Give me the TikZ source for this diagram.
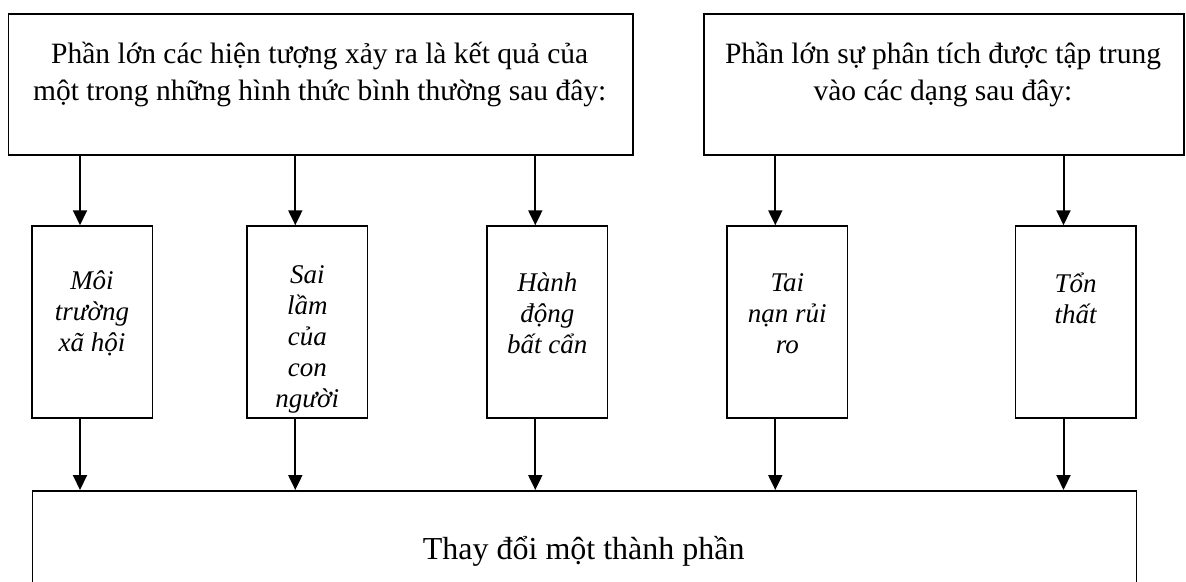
\documentclass[tikz,border=0pt]{standalone}
\usepackage{fontspec}
\setmainfont{Liberation Serif}
\usetikzlibrary{arrows.meta,calc}
\begin{document}
\begin{tikzpicture}[x=1pt,y=-1pt,
  box/.style={draw, line width=1.5pt, inner sep=0pt},
  smallbox/.style={box, minimum width=120.5pt, minimum height=192pt},
  arr/.style={line width=2pt, -{Triangle[length=15pt,width=14pt]}},
  maintext/.style={inner sep=0pt, anchor=base, font=\fontsize{29.5}{37}\selectfont},
  itltext/.style={inner sep=0pt, anchor=base, font=\fontsize{27}{31}\selectfont\itshape},
]
\useasboundingbox (0,0) rectangle (1186,581);
\clip (0,0) rectangle (1186,581);

% top boxes
\node[box, minimum width=624.5pt, minimum height=141pt, anchor=north west] (A) at (7.5,13) {};
\node[maintext] (At) at (319.7,63.3) {\parbox[t]{620pt}{\centering Phần lớn các hiện tượng xảy ra là kết quả của\\một trong những hình thức bình thường sau đây:}};
\node[box, minimum width=480pt, minimum height=141pt, anchor=north west] (B) at (703,13) {};
\node[maintext] (Bt) at (943,63.3) {\parbox[t]{476pt}{\centering Phần lớn sự phân tích được tập trung\\vào các dạng sau đây:}};

% middle boxes
\node[smallbox] (b1) at (92,322) {};
\node[smallbox] (b2) at (307.3,322) {};
\node[smallbox] (b3) at (547.3,322) {};
\node[smallbox] (b4) at (787.3,322) {};
\node[smallbox] (b5) at (1075.5,322) {};

\node[itltext] (t1) at (92,289.3) {\parbox[t]{116pt}{\centering Môi\\trường\\xã hội}};
\node[itltext] (t2) at (307.3,283) {\parbox[t]{116pt}{\centering Sai\\lầm\\của\\con\\người}};
\node[itltext] (t3) at (547.3,291.7) {\parbox[t]{116pt}{\centering Hành\\động\\bất cẩn}};
\node[itltext] (t4) at (787.3,291.7) {\parbox[t]{116pt}{\centering Tai\\nạn rủi\\ro}};
\node[itltext] (t5) at (1075.5,292.7) {\parbox[t]{116pt}{\centering Tổn\\thất}};

% bottom box (cut off by the page edge)
\node[box, minimum width=1104pt, minimum height=140pt, anchor=north west] (E) at (31.7,490) {};
\node[inner sep=0pt, anchor=base, font=\fontsize{32}{38}\selectfont] (Et) at (583.7,559) {Thay đổi một thành phần};

% arrows
\foreach \b in {b1,b2,b3}
  \draw[arr] ([xshift=-12pt]\b.north |- A.south) -- ([xshift=-12pt]\b.north);
\foreach \b in {b4,b5}
  \draw[arr] ([xshift=-12pt]\b.north |- B.south) -- ([xshift=-12pt]\b.north);
\foreach \b in {b1,b2,b3,b4,b5}
  \draw[arr] ([xshift=-12pt]\b.south) -- ([xshift=-12pt]\b.south |- E.north);
\end{tikzpicture}
\end{document}
